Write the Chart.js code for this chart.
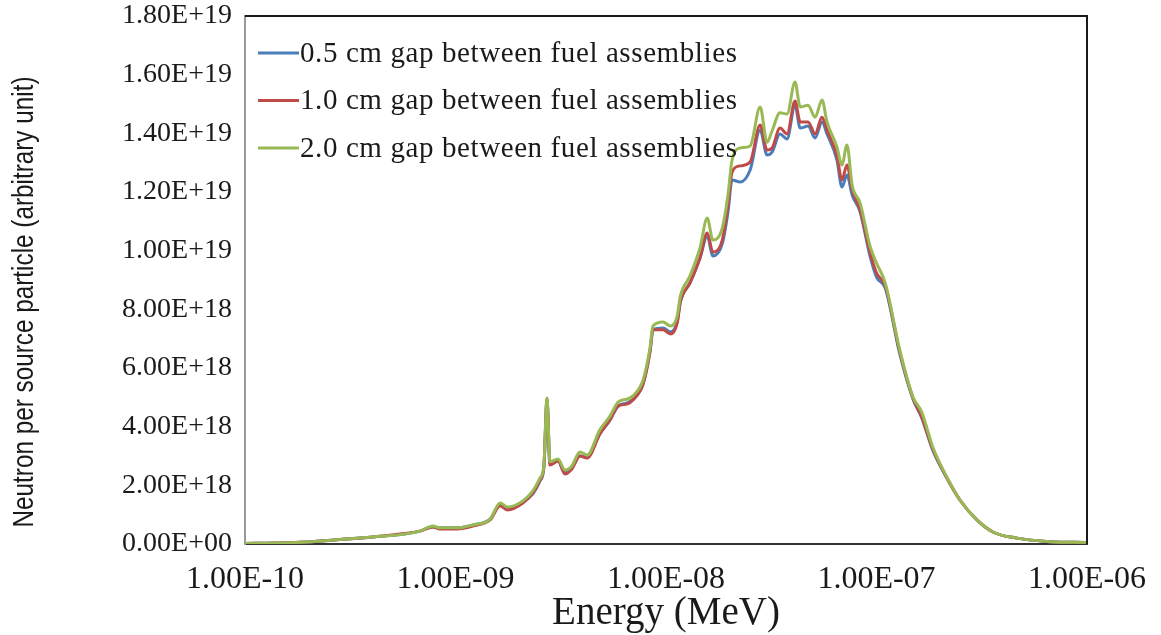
<!DOCTYPE html>
<html>
<head>
<meta charset="utf-8">
<script src="https://cdn.jsdelivr.net/npm/chart.js@4/dist/chart.umd.min.js"></script>
<style>
  html, body { margin: 0; padding: 0; background: #ffffff; }
  #wrap { width: 1161px; height: 635px; position: relative; }
</style>
</head>
<body>
<div id="wrap"><canvas id="c" width="1161" height="635"></canvas></div>
<script>
// Energy grid (MeV)
const energy = [
  1.00e-10, 1.39e-10, 1.97e-10, 2.82e-10, 4.06e-10, 5.45e-10, 6.78e-10, 7.82e-10, 8.43e-10,
  1.02e-9, 1.21e-9, 1.46e-9, 1.63e-9, 1.76e-9, 2.09e-9, 2.33e-9, 2.52e-9, 2.63e-9, 2.72e-9,
  2.81e-9, 3.07e-9, 3.31e-9, 3.57e-9, 3.90e-9, 4.22e-9, 4.85e-9, 5.42e-9, 5.92e-9, 6.53e-9,
  6.97e-9, 7.78e-9, 8.39e-9, 8.67e-9, 9.68e-9, 1.05e-8, 1.13e-8, 1.17e-8, 1.30e-8, 1.45e-8,
  1.57e-8, 1.67e-8, 1.85e-8, 1.97e-8, 2.06e-8, 2.25e-8, 2.51e-8, 2.80e-8, 3.02e-8, 3.19e-8,
  3.48e-8, 3.76e-8, 4.10e-8, 4.34e-8, 4.73e-8, 5.11e-8, 5.51e-8, 5.82e-8, 6.49e-8, 6.85e-8,
  7.24e-8, 7.66e-8, 8.36e-8, 9.31e-8, 1.00e-7, 1.10e-7, 1.29e-7, 1.49e-7, 1.64e-7, 1.85e-7,
  2.16e-7, 2.49e-7, 3.00e-7, 3.57e-7, 4.65e-7, 6.67e-7, 1.00e-6
];
// Neutron per source particle, in units of 1E+18
const gap05 = [
  0.02, 0.03, 0.07, 0.15, 0.24, 0.32, 0.44, 0.58, 0.55,
  0.55, 0.65, 0.85, 1.36, 1.19, 1.43, 1.71, 2.15, 2.63, 4.91,
  2.73, 2.83, 2.45, 2.59, 3.00, 2.97, 3.75, 4.23, 4.70, 4.81,
  4.94, 5.45, 6.55, 7.30, 7.36, 7.23, 7.57, 8.25, 8.90, 9.75,
  10.50, 9.82, 10.23, 11.32, 12.41, 12.34, 12.75, 14.11, 13.26, 13.36,
  13.98, 13.81, 14.96, 14.18, 14.25, 13.84, 14.39, 13.98, 13.09, 12.17,
  12.58, 11.90, 11.32, 9.82, 9.10, 8.73, 6.48, 4.94, 4.30, 3.20,
  2.25, 1.50, 0.82, 0.41, 0.20, 0.08, 0.05
];
const gap10 = [
  0.02, 0.03, 0.07, 0.15, 0.24, 0.34, 0.44, 0.58, 0.51,
  0.51, 0.61, 0.82, 1.30, 1.16, 1.40, 1.74, 2.18, 2.63, 4.91,
  2.69, 2.83, 2.39, 2.56, 3.00, 2.93, 3.75, 4.23, 4.70, 4.77,
  4.91, 5.45, 6.55, 7.30, 7.30, 7.16, 7.53, 8.25, 8.90, 9.75,
  10.60, 9.95, 10.36, 11.55, 12.68, 12.89, 13.02, 14.28, 13.43, 13.50,
  14.18, 13.98, 15.10, 14.39, 14.39, 13.98, 14.55, 14.11, 13.23, 12.41,
  12.92, 12.07, 11.38, 9.95, 9.24, 8.80, 6.55, 4.98, 4.33, 3.24,
  2.25, 1.50, 0.82, 0.41, 0.20, 0.08, 0.05
];
const gap20 = [
  0.02, 0.03, 0.07, 0.15, 0.24, 0.32, 0.44, 0.61, 0.55,
  0.55, 0.65, 0.85, 1.40, 1.26, 1.47, 1.81, 2.25, 2.69, 4.98,
  2.80, 2.90, 2.52, 2.66, 3.14, 3.03, 3.89, 4.36, 4.84, 4.94,
  5.05, 5.59, 6.68, 7.43, 7.57, 7.43, 7.77, 8.45, 9.14, 10.09,
  11.11, 10.36, 10.77, 11.90, 13.09, 13.50, 13.57, 14.90, 13.70, 14.08,
  14.70, 14.66, 15.75, 14.90, 14.96, 14.55, 15.14, 14.39, 13.53, 12.92,
  13.60, 12.24, 11.62, 10.16, 9.58, 8.90, 6.61, 5.01, 4.50, 3.31,
  2.28, 1.50, 0.82, 0.41, 0.20, 0.08, 0.05
];
const UNIT = 1e18;
const seriesLabels = [
  '0.5 cm gap between fuel assemblies',
  '1.0 cm gap between fuel assemblies',
  '2.0 cm gap between fuel assemblies'
];
const seriesColors = ['#4a7ebb', '#be4b48', '#98b954'];
const xTickValues = [1e-10, 1e-9, 1e-8, 1e-7, 1e-6];
const yMin = 0, yMax = 1.8e19, yStep = 2e18;
const xTitle = 'Energy (MeV)';
const yTitle = 'Neutron per source particle (arbitrary unit)';

function fmtE(v) {
  if (v === 0) return '0.00E+00';
  const s = v.toExponential(2).toUpperCase();
  const m = s.match(/^(-?[\d.]+)E([+-])(\d+)$/);
  return m[1] + 'E' + m[2] + (m[3].length < 2 ? '0' + m[3] : m[3]);
}

const all = [gap05, gap10, gap20];
const datasets = all.map((arr, i) => ({
  label: seriesLabels[i],
  data: energy.map((e, k) => ({ x: e, y: arr[k] * UNIT })),
  borderColor: seriesColors[i],
  backgroundColor: seriesColors[i],
  borderWidth: 3,
  pointRadius: 0,
  cubicInterpolationMode: 'monotone',
  order: 2 - i
}));

const serif = "'Liberation Serif', 'Times New Roman', serif";

const framePlugin = {
  id: 'frame',
  afterDatasetsDraw(chart) {
    const { ctx, chartArea: a } = chart;
    ctx.save();
    ctx.strokeStyle = '#1a1a1a';
    ctx.lineWidth = 2;
    ctx.beginPath();
    ctx.moveTo(a.left, a.top);
    ctx.lineTo(a.right, a.top);
    ctx.lineTo(a.right, a.bottom);
    ctx.stroke();
    // legend
    ctx.font = "29px " + serif;
    if ('letterSpacing' in ctx) ctx.letterSpacing = '0.6px';
    ctx.textBaseline = 'middle';
    ctx.textAlign = 'left';
    chart.data.datasets.forEach((d, i) => {
      const y = a.top + 37 + i * 47.5;
      ctx.strokeStyle = d.borderColor;
      ctx.lineWidth = 3;
      ctx.beginPath();
      ctx.moveTo(a.left + 13, y);
      ctx.lineTo(a.left + 54, y);
      ctx.stroke();
      ctx.fillStyle = '#1a1a1a';
      ctx.fillText(d.label, a.left + 55, y + 1);
    });
    ctx.restore();
  },
  afterDraw(chart) {
    // condensed vertical axis title
    const { ctx, chartArea: a } = chart;
    ctx.save();
    ctx.translate(25, (a.top + a.bottom) / 2 + 22);
    ctx.rotate(-Math.PI / 2);
    ctx.scale(0.81, 1);
    ctx.font = "30px 'Liberation Sans', Arial, sans-serif";
    ctx.fillStyle = '#1a1a1a';
    ctx.textAlign = 'center';
    ctx.textBaseline = 'middle';
    ctx.fillText(yTitle, 0, 0);
    ctx.restore();
  }
};

new Chart(document.getElementById('c'), {
  type: 'line',
  data: { datasets },
  options: {
    responsive: false,
    animation: false,
    layout: { padding: { top: 16, right: 74, left: 0, bottom: 0 } },
    plugins: { legend: { display: false }, tooltip: { enabled: false } },
    scales: {
      x: {
        type: 'logarithmic',
        min: 1e-10, max: 1e-6,
        afterBuildTicks: s => { s.ticks = xTickValues.map(v => ({ value: v })); },
        afterFit: s => { s.height = 91; s.paddingLeft = 0; s.paddingRight = 0; },
        grid: { display: false, drawOnChartArea: false, drawTicks: true, tickLength: 7, tickColor: '#999999' },
        border: { display: true, color: '#333333', width: 2 },
        ticks: {
          callback: v => fmtE(v),
          color: '#1a1a1a',
          font: { family: serif, size: 32 },
          maxRotation: 0, autoSkip: false, padding: 9
        },
        title: {
          display: true, text: xTitle, color: '#1a1a1a',
          font: { family: serif, size: 39, lineHeight: 1.1 }, padding: { top: 0, bottom: 0 }
        }
      },
      y: {
        min: yMin, max: yMax,
        afterBuildTicks: s => {
          const t = [];
          for (let v = yMin; v <= yMax + 1; v += yStep) t.push({ value: v });
          s.ticks = t;
        },
        afterFit: s => { s.width = 245; s.paddingTop = 0; s.paddingBottom = 0; },
        grid: { display: false, drawOnChartArea: false, drawTicks: true, tickLength: 7, tickColor: '#999999' },
        border: { display: true, color: '#999999', width: 2 },
        ticks: {
          callback: v => fmtE(v),
          color: '#1a1a1a',
          font: { family: serif, size: 28 },
          padding: 6
        }
      }
    }
  },
  plugins: [framePlugin]
});
</script>
</body>
</html>
